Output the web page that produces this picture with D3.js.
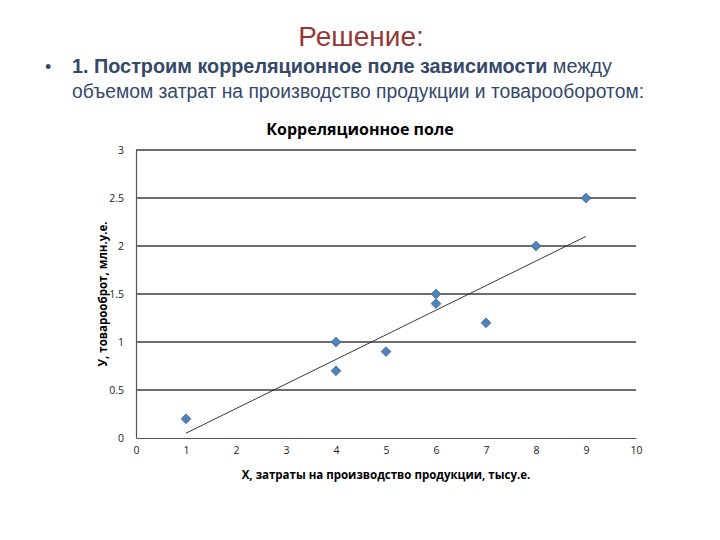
<!DOCTYPE html>
<html><head><meta charset="utf-8">
<script src="https://cdn.jsdelivr.net/npm/d3@7"></script>
<style>body{margin:0;background:#fff}</style>
</head><body>
<script>
const xValues = [1, 4, 4, 5, 6, 6, 7, 8, 9];
const yValues = [0.2, 1.0, 0.7, 0.9, 1.5, 1.4, 1.2, 2.0, 2.5];
const trendX = [1, 9];
const trendY = [0.05, 2.1];
const xTicks = [0,1,2,3,4,5,6,7,8,9,10];
const yTicks = [0,0.5,1,1.5,2,2.5,3];

const W = 720, H = 540;
const svg = d3.select("body").append("svg").attr("width", W).attr("height", H);

svg.append("text").attr("x", 361).attr("y", 46).attr("text-anchor", "middle")
  .attr("font-family", "Liberation Sans Narrow, Liberation Sans, Arial").attr("font-size", 28)
  .attr("fill", "#953735").text("Решение:");

const tc = "#34496a";
svg.append("text").attr("x", 45).attr("y", 73).attr("font-family", "Liberation Sans").attr("font-size", 18).attr("fill", tc).text("•");
const l1 = svg.append("text").attr("x", 72).attr("y", 73).attr("font-family", "Liberation Sans Narrow, Liberation Sans, Arial").attr("font-size", 20).attr("fill", tc)
  .attr("textLength", 540).attr("lengthAdjust", "spacingAndGlyphs");
l1.append("tspan").attr("font-weight", "bold").text("1. Построим корреляционное поле зависимости");
l1.append("tspan").text(" между");
svg.append("text").attr("x", 72).attr("y", 98).attr("font-family", "Liberation Sans Narrow, Liberation Sans, Arial").attr("font-size", 20).attr("fill", tc)
  .attr("textLength", 572).attr("lengthAdjust", "spacingAndGlyphs")
  .text("объемом затрат на производство продукции и товарооборотом:");

const x = d3.scaleLinear().domain([0, 10]).range([136, 636]);
const y = d3.scaleLinear().domain([0, 3]).range([438, 150]);
const ff = "Open Sans, DejaVu Sans, sans-serif";

svg.append("text").attr("x", 360).attr("y", 135).attr("text-anchor", "middle")
  .attr("font-family", ff).attr("font-size", 16).attr("font-weight", "bold").attr("fill", "#000")
  .text("Корреляционное поле");

// gridlines
svg.append("g").selectAll("line").data(yTicks.filter(d => d > 0)).join("line")
  .attr("x1", x(0)).attr("x2", x(10)).attr("y1", d => y(d)).attr("y2", d => y(d))
  .attr("stroke", "#6e6e6e").attr("stroke-width", 1.2).attr("shape-rendering", "crispEdges");

const yAxis = svg.append("g").attr("transform", `translate(${x(0)},0)`)
  .call(d3.axisLeft(y).tickValues(yTicks).tickSize(0).tickPadding(12).tickFormat(d3.format("")));
const xAxis = svg.append("g").attr("transform", `translate(0,${y(0)})`)
  .call(d3.axisBottom(x).tickValues(xTicks).tickSize(0).tickPadding(9).tickFormat(d3.format("")));
[xAxis, yAxis].forEach(a => {
  a.select(".domain").attr("stroke", "#555").attr("stroke-width", 1.2);
  a.selectAll("text").attr("font-family", ff).attr("font-size", 10.5).attr("fill", "#222");
});

svg.append("text").attr("transform", `translate(107,294) rotate(-90)`).attr("text-anchor", "middle")
  .attr("font-family", ff).attr("font-size", 11.5).attr("font-weight", "bold").attr("fill", "#000")
  .text("У, товарооброт, млн.у.е.");
svg.append("text").attr("x", 386).attr("y", 479).attr("text-anchor", "middle")
  .attr("font-family", ff).attr("font-size", 11.5).attr("font-weight", "bold").attr("fill", "#000")
  .text("X, затраты на производство продукции, тысу.е.");

// trend line
svg.append("line").attr("x1", x(trendX[0])).attr("y1", y(trendY[0]))
  .attr("x2", x(trendX[1])).attr("y2", y(trendY[1]))
  .attr("stroke", "#222").attr("stroke-width", 0.9);

// points
svg.append("g").selectAll("path").data(xValues.map((v, i) => [v, yValues[i]])).join("path")
  .attr("d", d3.symbol(d3.symbolDiamond2, 60))
  .attr("transform", d => `translate(${x(d[0])},${y(d[1])})`)
  .attr("fill", "#4f81bd").attr("stroke", "#3b6290").attr("stroke-width", 0.8);
</script>
</body></html>
